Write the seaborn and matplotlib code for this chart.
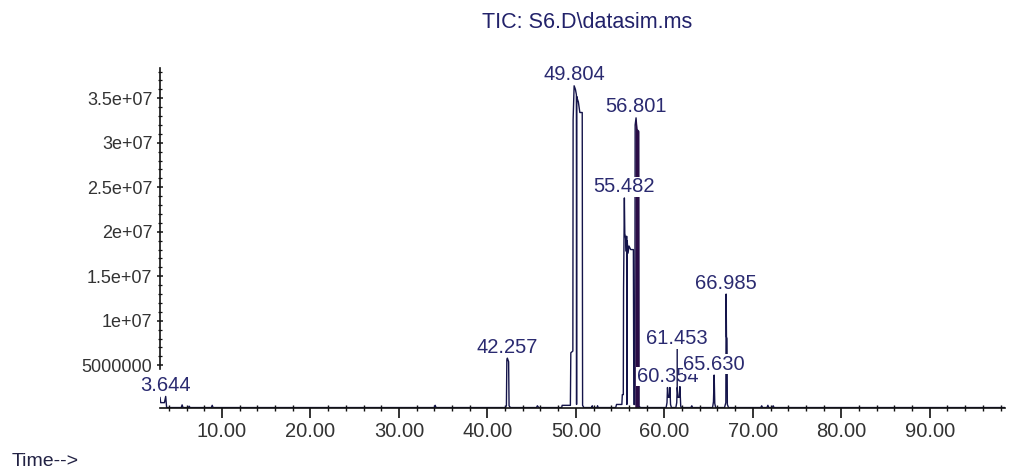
import numpy as np
import pandas as pd
import matplotlib
matplotlib.use("Agg")
import matplotlib.pyplot as plt
import seaborn as sns
from matplotlib.ticker import FixedLocator, FixedFormatter

# Total ion chromatogram: retention time (min) and abundance (millions of counts)
time_min = [
    3.00, 3.08, 3.50, 3.644, 3.75,
    5.40, 5.50, 5.60, 6.20, 6.30, 6.40, 8.80, 8.90, 9.00,
    34.00, 34.10, 34.20,
    42.00, 42.15, 42.20, 42.257, 42.40, 42.45, 42.60,
    45.55, 45.65, 45.80,
    48.40, 48.45, 49.38, 49.43, 49.66, 49.69, 49.804, 49.95, 50.06, 50.08,
    50.10, 50.14, 50.28, 50.45, 50.72, 50.76, 50.90,
    51.80, 51.85, 51.90, 52.40, 52.45, 52.50,
    54.50, 54.60, 55.20, 55.25, 55.36, 55.39, 55.482, 55.53, 55.62, 55.70,
    55.74, 55.76, 55.78, 55.80, 55.90, 56.00, 56.20, 56.50, 56.55, 56.66,
    56.70, 56.801, 56.90, 57.10, 57.13, 57.30,
    60.20, 60.30, 60.354, 60.45, 60.58, 60.63, 60.70, 60.80,
    61.30, 61.40, 61.453, 61.55, 61.70, 61.76, 61.85, 61.95,
    63.00, 63.10, 63.20,
    65.45, 65.55, 65.630, 65.70, 65.80,
    66.80, 66.95, 66.985, 67.02, 67.08, 67.12, 67.25,
    70.90, 71.00, 71.10, 71.60, 71.70, 71.80, 72.20, 72.30, 72.40,
    98.50,
]
abundance_m = [
    1.4, 0.8, 0.8, 1.5, 0.25,
    0.25, 0.55, 0.25, 0.25, 0.4, 0.25, 0.25, 0.5, 0.25,
    0.25, 0.5, 0.25,
    0.25, 0.45, 5.6, 5.8, 5.4, 0.45, 0.25,
    0.25, 0.45, 0.25,
    0.25, 0.5, 0.5, 6.4, 6.6, 32.6, 36.4, 36.0, 35.4, 0.6,
    35.2, 35.0, 34.6, 33.4, 33.4, 0.5, 0.25,
    0.25, 0.45, 0.25, 0.25, 0.45, 0.25,
    0.25, 0.6, 0.6, 1.7, 1.7, 13.5, 23.8, 19.8, 19.3, 17.8,
    19.5, 0.6, 19.0, 19.0, 17.6, 18.4, 18.0, 18.0, 0.6, 0.6,
    32.0, 32.8, 31.5, 31.3, 0.4, 0.25,
    0.25, 0.8, 2.5, 1.4, 1.4, 2.5, 0.6, 0.25,
    0.25, 0.8, 2.5, 1.4, 1.4, 2.6, 0.4, 0.25,
    0.25, 0.45, 0.25,
    0.25, 0.9, 3.9, 0.7, 0.25,
    0.25, 0.8, 13.0, 8.2, 8.0, 0.6, 0.25,
    0.25, 0.45, 0.25, 0.25, 0.5, 0.25, 0.25, 0.45, 0.25,
    0.25,
]

# Integrated peaks: apex retention time and apex abundance (millions)
peak_rt = [3.644, 42.257, 49.804, 55.482, 56.801, 60.354, 61.453, 65.630, 66.985]
peak_apex_m = [1.5, 5.8, 36.4, 23.8, 32.8, 2.5, 2.5, 3.9, 13.0]
peak_text = ["3.644", "42.257", "49.804", "55.482", "56.801",
             "60.354", "61.453", "65.630", "66.985"]

x_ticks = [10, 20, 30, 40, 50, 60, 70, 80, 90]
x_tick_labels = ["10.00", "20.00", "30.00", "40.00", "50.00",
                 "60.00", "70.00", "80.00", "90.00"]
y_ticks_m = [5, 10, 15, 20, 25, 30, 35]
y_tick_labels = ["5000000", "1e+07", "1.5e+07", "2e+07", "2.5e+07", "3e+07", "3.5e+07"]

title_text = "TIC: S6.D\\datasim.ms"
time_text = "Time-->"

MILLION = 1e6
df = pd.DataFrame({"time": time_min, "tic": np.array(abundance_m) * MILLION})

sns.set_theme(style="white")
plt.rcParams["font.family"] = ["Liberation Sans", "DejaVu Sans"]

W, H = 1010, 472
fig = plt.figure(figsize=(W / 100, H / 100), dpi=100)
fig.patch.set_facecolor("white")
ax_left, ax_right, ax_top, ax_bottom = 160, 1005, 68, 408
ax = fig.add_axes([ax_left / W, 1 - ax_bottom / H,
                   (ax_right - ax_left) / W, (ax_bottom - ax_top) / H])
ax.set_facecolor("white")

trace_color = "#14144a"
label_color = "#2a2a70"

sns.lineplot(data=df, x="time", y="tic", ax=ax, color=trace_color,
             linewidth=1.0, estimator=None, sort=False, zorder=2)

# Dense co-eluting region around 56.8 min prints as a solid band
t = df["time"].to_numpy()
y = df["tic"].to_numpy()
band = (t >= 56.66) & (t <= 57.13)
ax.fill_between(t[band], y[band], 0.25 * MILLION, color="#2a0c46", lw=0, zorder=2)

ax.set_xlim(3.0, 98.5)
ax.set_ylim(0.2 * MILLION, 38.4 * MILLION)
ax.set_xlabel("")
ax.set_ylabel("")

for side in ("top", "right"):
    ax.spines[side].set_visible(False)
for side in ("left", "bottom"):
    ax.spines[side].set_color("#111111")
    ax.spines[side].set_linewidth(1.2)
ax.spines["left"].set_bounds(4.6 * MILLION, 38.4 * MILLION)

ax.xaxis.set_major_locator(FixedLocator(x_ticks))
ax.xaxis.set_major_formatter(FixedFormatter(x_tick_labels))
ax.xaxis.set_minor_locator(FixedLocator(np.arange(4, 99, 2)))
ax.yaxis.set_major_locator(FixedLocator([v * MILLION for v in y_ticks_m]))
ax.yaxis.set_major_formatter(FixedFormatter(y_tick_labels))
ax.yaxis.set_minor_locator(FixedLocator(np.arange(5, 39, 1) * MILLION))

ax.tick_params(axis="x", which="major", direction="out", length=7, width=1.2,
               colors="#111111", labelcolor="#333333", labelsize=14.5, pad=3,
               bottom=True)
ax.tick_params(axis="x", which="minor", direction="inout", length=5, width=1.0,
               colors="#111111", bottom=True)
ax.tick_params(axis="y", which="major", direction="inout", length=5, width=1.1,
               colors="#111111", labelcolor="#333333", labelsize=13, pad=3,
               left=True)
ax.tick_params(axis="y", which="minor", direction="inout", length=3, width=0.9,
               colors="#111111", left=True)

# Retention-time annotations with opaque boxes over the trace
raised = {"61.453": 31}
for rt, apex, txt in zip(peak_rt, peak_apex_m, peak_text):
    dy = raised.get(txt, 4)
    arrow = None
    if txt in raised:
        arrow = dict(arrowstyle="-", color=trace_color, lw=1.0,
                     shrinkA=0, shrinkB=0)
    ax.annotate(txt, xy=(rt, apex * MILLION), xytext=(0, dy),
                textcoords="offset points", ha="center", va="baseline",
                fontsize=14.5, color=label_color, zorder=5,
                arrowprops=arrow,
                bbox=dict(boxstyle="square,pad=0.02", fc="white", ec="none"),
                annotation_clip=False)

fig.text(587 / W, 1 - 22 / H, title_text, ha="center", va="center",
         fontsize=15.5, color="#22226a")
fig.text(12 / W, 1 - 462 / H, time_text, ha="left", va="center",
         fontsize=14, color="#222244")

fig.savefig("out.png", dpi=100, facecolor="white")
